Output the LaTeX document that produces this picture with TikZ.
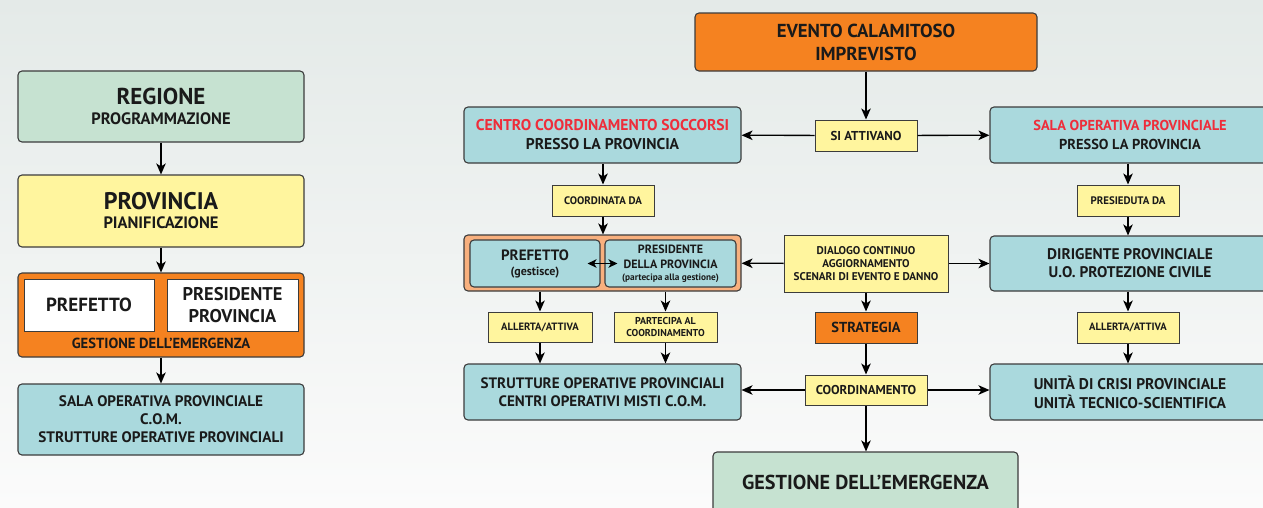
\documentclass[tikz,border=0pt]{standalone}
\usepackage{fontspec}
\setmainfont{PT Sans}
\usetikzlibrary{arrows.meta}
\definecolor{bgtop}{HTML}{E4EAE8}
\definecolor{bgbot}{HTML}{FBFBFB}
\definecolor{grn}{HTML}{C6E2D1}
\definecolor{yel}{HTML}{FFF59E}
\definecolor{org}{HTML}{F58220}
\definecolor{blu}{HTML}{AAD9DD}
\definecolor{pch}{HTML}{F8B07E}
\definecolor{rd}{HTML}{EE2D3A}
\definecolor{bd}{HTML}{3C3C3C}
\definecolor{tx}{HTML}{1A1A1A}
\newcommand\fz[2]{\fontsize{#1}{#2}\selectfont}
\begin{document}
\begin{tikzpicture}[x=1pt,y=-1pt,
  box/.style={draw=bd, line width=1.1pt, rounded corners=4pt, align=center, inner sep=0pt, text=tx},
  sq/.style={draw=bd, line width=1pt, align=center, inner sep=0pt, text=tx},
  lbl/.style={sq, fill=yel},
  arr/.style={-{Stealth[length=11pt,width=9.5pt,inset=3pt]}, line width=1.3pt, draw=black},
  darr/.style={{Stealth[length=9pt,width=8.5pt,inset=2.5pt]}-{Stealth[length=9pt,width=8.5pt,inset=2.5pt]}, line width=1.3pt, draw=black}]
\fill[top color=bgtop, bottom color=bgbot] (0,0) rectangle (1263,507);
\useasboundingbox (0,0) rectangle (1263,507);

% ---------- left column ----------
\node[box, fill=grn, minimum width=286pt, minimum height=71pt, font=\bfseries\fz{23}{20}] (reg) at (161,106.5)
  {REGIONE\\\fz{16.5}{20}PROGRAMMAZIONE};
\node[box, fill=yel, minimum width=286pt, minimum height=72pt, font=\bfseries\fz{24}{19}] (prov) at (161,211)
  {PROVINCIA\\\fz{16.5}{19}PIANIFICAZIONE};
\node[box, fill=org, minimum width=286pt, minimum height=84pt] (gest) at (161,315) {};
\node[sq, fill=white, minimum width=130pt, minimum height=52pt, font=\bfseries\fz{19}{22}] (wpref) at (89,305)
  {PREFETTO};
\node[sq, fill=white, minimum width=131pt, minimum height=52pt, font=\bfseries\fz{18.4}{22}] (wpres) at (232.5,305)
  {PRESIDENTE\\PROVINCIA};
\node[text=tx, font=\bfseries\fz{14.6}{16}, inner sep=0pt] (gestlbl) at (161,343)
  {GESTIONE DELL’EMERGENZA};
\node[box, fill=blu, minimum width=286pt, minimum height=71pt, font=\bfseries\fz{15.2}{18}] (sala) at (161,419.5)
  {SALA OPERATIVA PROVINCIALE\\C.O.M.\\STRUTTURE OPERATIVE PROVINCIALI};

\draw[arr] (reg) -- (prov);
\draw[arr] (prov) -- (gest);
\draw[arr] (gest) -- (sala);

% ---------- right part ----------
\node[box, fill=org, minimum width=342pt, minimum height=58pt, font=\bfseries\fz{18.8}{23}] (evento) at (866,42)
  {EVENTO CALAMITOSO\\IMPREVISTO};
\node[lbl, minimum width=102pt, minimum height=31pt, font=\bfseries\fz{12.9}{15}] (siatt) at (866,135.5)
  {SI ATTIVANO};
\node[box, fill=blu, minimum width=277pt, minimum height=56pt, font=\bfseries\fz{15.6}{19}] (ccs) at (602.5,135)
  {\textcolor{rd}{CENTRO COORDINAMENTO SOCCORSI}\\PRESSO LA PROVINCIA};
\node[box, fill=blu, minimum width=280pt, minimum height=56pt, font=\bfseries\fz{14.4}{19}] (sop) at (1130,135)
  {\textcolor{rd}{SALA OPERATIVA PROVINCIALE}\\PRESSO LA PROVINCIA};
\node[lbl, minimum width=102pt, minimum height=31pt, font=\bfseries\fz{10.9}{12}] (coordda) at (603,200.5)
  {COORDINATA DA};
\node[lbl, minimum width=102pt, minimum height=31pt, font=\bfseries\fz{10.9}{12}] (presied) at (1128,200.5)
  {PRESIEDUTA DA};

\node[box, fill=pch, minimum width=277pt, minimum height=56pt] (outer) at (602.5,263) {};
\node[box, fill=blu, minimum width=130pt, minimum height=47pt, font=\bfseries\fz{15}{15}] (pref2) at (535,263.5)
  {PREFETTO\\\fz{12}{15}(gestisce)};
\node[box, fill=blu, minimum width=131pt, minimum height=47pt, font=\bfseries\fz{12}{15}] (pres2) at (670.5,263.5)
  {PRESIDENTE\\DELLA PROVINCIA\\[-3.5pt]\fz{9.3}{15}(partecipa alla gestione)};
\node[lbl, minimum width=164pt, minimum height=57pt, font=\bfseries\fz{11.2}{13}] (dialogo) at (866,263.5)
  {DIALOGO CONTINUO\\AGGIORNAMENTO\\SCENARI DI EVENTO E DANNO};
\node[box, fill=blu, minimum width=280pt, minimum height=55pt, font=\bfseries\fz{15.4}{18}] (dirig) at (1130,263.5)
  {DIRIGENTE PROVINCIALE\\U.O. PROTEZIONE CIVILE};

\node[sq, fill=org, minimum width=102pt, minimum height=31pt, font=\bfseries\fz{14.5}{16}] (strateg) at (866,327.5)
  {STRATEGIA};
\node[lbl, minimum width=104pt, minimum height=30pt, font=\bfseries\fz{10.6}{12}] (allerta1) at (540,327)
  {ALLERTA/ATTIVA};
\node[lbl, minimum width=103pt, minimum height=30pt, font=\bfseries\fz{10}{12.5}] (partec) at (665.5,327)
  {PARTECIPA AL\\COORDINAMENTO};
\node[lbl, minimum width=102pt, minimum height=31pt, font=\bfseries\fz{10.6}{12}] (allerta2) at (1128,327.5)
  {ALLERTA/ATTIVA};

\node[lbl, minimum width=122pt, minimum height=30pt, font=\bfseries\fz{12.8}{14}] (coord) at (866,390)
  {COORDINAMENTO};
\node[box, fill=blu, minimum width=277pt, minimum height=56pt, font=\bfseries\fz{15.1}{18}] (strutt) at (602.5,392)
  {STRUTTURE OPERATIVE PROVINCIALI\\CENTRI OPERATIVI MISTI C.O.M.};
\node[box, fill=blu, minimum width=280pt, minimum height=56pt, font=\bfseries\fz{15.5}{19}] (unita) at (1130,392)
  {UNITÀ DI CRISI PROVINCIALE\\UNITÀ TECNICO-SCIENTIFICA};
\node[box, fill=grn, minimum width=305pt, minimum height=60pt, font=\bfseries\fz{20.2}{22}] (gestfin) at (865.5,482)
  {GESTIONE DELL’EMERGENZA};

% arrows
\draw[arr] (evento) -- (siatt);
\draw[arr] (siatt) -- (ccs);
\draw[arr] (siatt) -- (sop);
\draw[arr] (coordda.north |- ccs.south) -- (coordda.north);
\draw[arr] (coordda.south) -- (coordda.south |- outer.north);
\draw[darr] ([xshift=-13pt]pref2.east) -- ([xshift=13pt]pres2.west);
\draw[arr] (dialogo) -- (outer);
\draw[arr] (dialogo) -- (dirig);
\draw[arr] (presied.north |- sop.south) -- (presied.north);
\draw[arr] (presied.south) -- (presied.south |- dirig.north);
\draw[arr] (allerta2.north |- dirig.south) -- (allerta2.north);
\draw[arr] (allerta2.south) -- (allerta2.south |- unita.north);
\draw[arr] (dialogo) -- (strateg);
\draw[arr] (strateg) -- (coord);
\draw[arr] (coord.west) -- (coord.west -| strutt.east);
\draw[arr] (coord.east) -- (coord.east -| unita.west);
\draw[arr] (coord.south) -- (coord.south |- gestfin.north);
\draw[arr] (allerta1.north |- outer.south) -- (allerta1.north);
\draw[arr] (allerta1.south) -- (allerta1.south |- strutt.north);
\draw[arr] (partec.north |- outer.south) -- (partec.north);
\draw[arr] (partec.south) -- (partec.south |- strutt.north);
\end{tikzpicture}
\end{document}
